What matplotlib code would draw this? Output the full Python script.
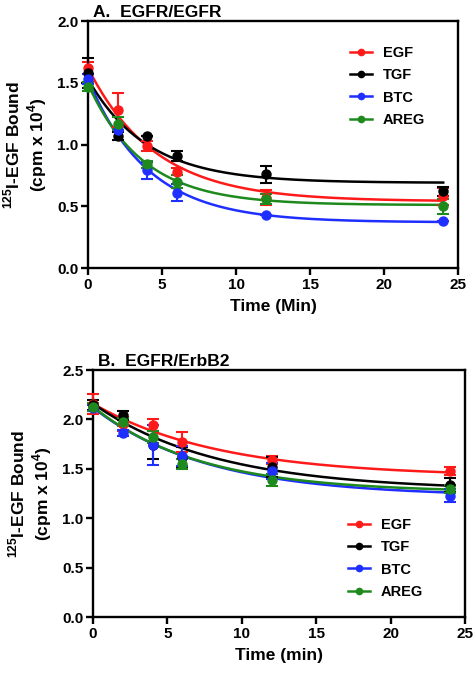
import numpy as np
import matplotlib
matplotlib.use("Agg")
import matplotlib.pyplot as plt

plt.rcParams['font.family'] = ['Liberation Sans', 'DejaVu Sans']
plt.rcParams['font.weight'] = 'bold'
plt.rcParams['mathtext.fontset'] = 'custom'
plt.rcParams['mathtext.rm'] = 'Liberation Sans:bold'
plt.rcParams['mathtext.bf'] = 'Liberation Sans:bold'

time_pts = [0, 2, 4, 6, 12, 24]
series = ["EGF", "TGF", "BTC", "AREG"]
colors = {"EGF": "#ff1a1a", "TGF": "#000000", "BTC": "#1f2fff", "AREG": "#1e8a1e"}

# Panel A: EGFR/EGFR
a_vals = {
    "EGF":  [1.62, 1.28, 0.99, 0.78, 0.57, 0.58],
    "TGF":  [1.58, 1.07, 1.07, 0.91, 0.76, 0.62],
    "BTC":  [1.53, 1.12, 0.79, 0.61, 0.43, 0.38],
    "AREG": [1.47, 1.17, 0.84, 0.70, 0.56, 0.50],
}
a_err = {
    "EGF":  [0.05, 0.14, 0.04, 0.03, 0.06, 0.07],
    "TGF":  [0.12, 0.03, 0.00, 0.04, 0.07, 0.04],
    "BTC":  [0.04, 0.00, 0.07, 0.07, 0.00, 0.00],
    "AREG": [0.04, 0.05, 0.03, 0.05, 0.04, 0.06],
}
# one-phase decay fits: Y0, plateau, K
a_fit = {
    "EGF":  (1.62, 0.54, 0.22),
    "TGF":  (1.53, 0.69, 0.25),
    "BTC":  (1.53, 0.37, 0.248),
    "AREG": (1.49, 0.51, 0.27),
}

# Panel B: EGFR/ErbB2
b_vals = {
    "EGF":  [2.16, 1.95, 1.94, 1.77, 1.59, 1.48],
    "TGF":  [2.15, 2.04, 1.74, 1.62, 1.52, 1.34],
    "BTC":  [2.12, 1.86, 1.74, 1.63, 1.48, 1.23],
    "AREG": [2.13, 1.97, 1.82, 1.55, 1.39, 1.30],
}
b_err = {
    "EGF":  [0.10, 0.07, 0.06, 0.10, 0.04, 0.04],
    "TGF":  [0.05, 0.05, 0.14, 0.10, 0.10, 0.07],
    "BTC":  [0.03, 0.03, 0.20, 0.10, 0.08, 0.07],
    "AREG": [0.04, 0.04, 0.06, 0.05, 0.06, 0.04],
}
b_fit = {
    "EGF":  (2.16, 1.42, 0.118),
    "TGF":  (2.16, 1.28, 0.12),
    "BTC":  (2.12, 1.22, 0.13),
    "AREG": (2.13, 1.26, 0.14),
}

fig = plt.figure(figsize=(4.74, 6.77), dpi=100)
axA = fig.add_axes([0.1857, 0.6041, 0.7806, 0.3648])
axB = fig.add_axes([0.1962, 0.0886, 0.7848, 0.3648])

def draw(ax, vals, errs, fits, ylim, yticks, xlabel, title, leganchor):
    xx = np.linspace(0, 24, 300)
    for s in series:
        c = colors[s]
        y0, p, k = fits[s]
        ax.plot(xx, (y0 - p) * np.exp(-k * xx) + p, color=c, lw=1.8, zorder=2,
                clip_on=False)
        ax.errorbar(time_pts, vals[s], yerr=errs[s], fmt='o', color=c, ms=6.5,
                    elinewidth=1.5, capsize=4, capthick=1.5, zorder=3, clip_on=False)
        ax.plot([], [], '-o', color=c, lw=1.8, ms=4.5, label=s)
    ax.set_xlim(0, 25)
    ax.set_ylim(*ylim)
    ax.set_xticks([0, 5, 10, 15, 20, 25])
    ax.set_yticks(yticks)
    ax.set_yticklabels([f"{t:.1f}" for t in yticks])
    for sp in ax.spines.values():
        sp.set_linewidth(1.7)
    ax.tick_params(direction='out', length=5, width=1.7, labelsize=11, pad=2)
    for lab in ax.get_xticklabels() + ax.get_yticklabels():
        lab.set_fontweight('bold')
    ax.set_xlabel(xlabel, fontsize=12.5, fontweight='bold', labelpad=5)
    ax.set_ylabel(r'$^{125}$I-EGF Bound' + '\n' + r'(cpm x 10$^{4}$)',
                  fontsize=12.5, fontweight='bold', labelpad=6, linespacing=1.15)
    ax.set_title(title, loc='left', fontsize=12.5, fontweight='bold', x=0.014, pad=3)
    ax.legend(loc='upper left', bbox_to_anchor=leganchor, frameon=False,
              handlelength=1.5, handletextpad=0.75, labelspacing=0.56,
              borderpad=0, borderaxespad=0,
              prop={'weight': 'bold', 'size': 10.5})

draw(axA, a_vals, a_err, a_fit, (0, 2.0), [0.0, 0.5, 1.0, 1.5, 2.0],
     "Time (Min)", "A.  EGFR/EGFR", (0.708, 0.898))
draw(axB, b_vals, b_err, b_fit, (0, 2.5), [0.0, 0.5, 1.0, 1.5, 2.0, 2.5],
     "Time (min)", "B.  EGFR/ErbB2", (0.686, 0.40))

fig.savefig("out.png", dpi=100)
